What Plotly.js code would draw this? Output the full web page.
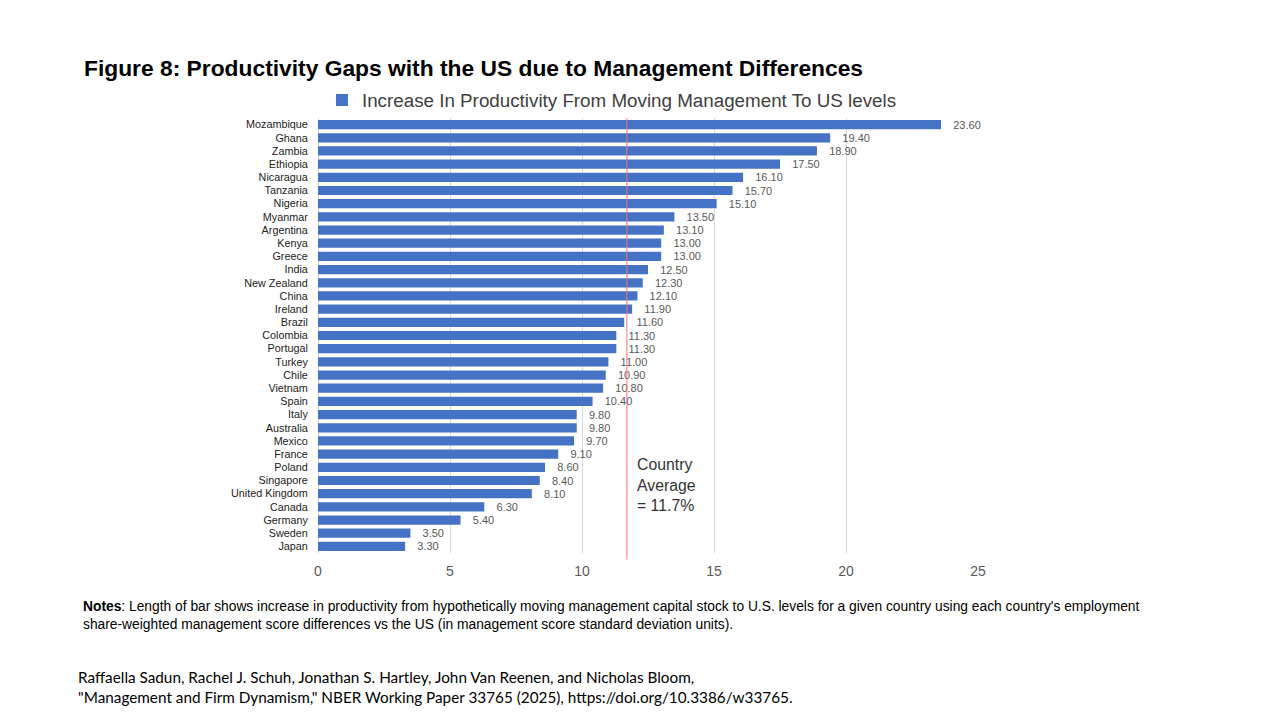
<!DOCTYPE html>
<html>
<head>
<meta charset="utf-8">
<script src="https://cdn.plot.ly/plotly-3.0.1.min.js"></script>
<style>
html,body{margin:0;padding:0;background:#fff;}
#chart{width:1280px;height:720px;}
</style>
</head>
<body>
<div id="chart"></div>
<script>
const countries = ["Mozambique","Ghana","Zambia","Ethiopia","Nicaragua","Tanzania","Nigeria","Myanmar","Argentina","Kenya","Greece","India","New Zealand","China","Ireland","Brazil","Colombia","Portugal","Turkey","Chile","Vietnam","Spain","Italy","Australia","Mexico","France","Poland","Singapore","United Kingdom","Canada","Germany","Sweden","Japan"];
const increase = [23.60,19.40,18.90,17.50,16.10,15.70,15.10,13.50,13.10,13.00,13.00,12.50,12.30,12.10,11.90,11.60,11.30,11.30,11.00,10.90,10.80,10.40,9.80,9.80,9.70,9.10,8.60,8.40,8.10,6.30,5.40,3.50,3.30];
const xTicks = [0,5,10,15,20,25];
const countryAverage = 11.7;
const seriesName = "Increase In Productivity From Moving Management To US levels";

const trace = {
  type: 'bar',
  orientation: 'h',
  y: countries,
  x: increase,
  name: seriesName,
  marker: {color: '#4472C4', line: {width: 0}},
  text: increase.map(v => v.toFixed(2)),
  texttemplate: '   %{text}',
  textposition: 'outside',
  constraintext: 'none',
  cliponaxis: false,
  textfont: {family: 'Liberation Sans, Arial, sans-serif', size: 11, color: '#595959'},
  showlegend: true,
  hoverinfo: 'x+y'
};

const layout = {
  width: 1280, height: 720,
  paper_bgcolor: '#fff', plot_bgcolor: '#fff',
  margin: {l: 318, r: 302, t: 118, b: 167},
  bargap: 0.3,
  font: {family: 'Liberation Sans, Arial, sans-serif'},
  showlegend: true,
  legend: {
    orientation: 'h', x: 0.006, xanchor: 'left', y: 0.997, yanchor: 'bottom',
    font: {size: 18.8, color: '#404040'}, itemwidth: 30,
    bgcolor: 'rgba(0,0,0,0)'
  },
  xaxis: {
    range: [0, 25], tickvals: xTicks, ticktext: xTicks.map(String),
    showgrid: true, gridcolor: '#d9d9d9', gridwidth: 1,
    zeroline: true, zerolinecolor: '#d9d9d9', zerolinewidth: 1,
    showline: false, ticks: '', ticklen: 8, ticklabelstandoff: 8,
    tickfont: {size: 14, color: '#595959'}
  },
  yaxis: {
    type: 'category', autorange: 'reversed',
    showgrid: false, zeroline: false, showline: false,
    ticks: 'outside', ticklen: 7, tickcolor: 'rgba(0,0,0,0)',
    tickfont: {size: 10.8, color: '#222'}
  },
  shapes: [{
    type: 'line', xref: 'x', yref: 'paper',
    x0: countryAverage, x1: countryAverage, y0: -0.015, y1: 1.0,
    line: {color: '#ff6f6f', width: 1}
  }],
  annotations: [
    {
      xref: 'paper', yref: 'paper', x: -0.358, y: 1.08, xanchor: 'left', yanchor: 'bottom',
      text: '<b>Figure 8: Productivity Gaps with the US due to Management Differences</b>',
      showarrow: false, font: {size: 22.8, color: '#000', family: 'Liberation Sans, Arial, sans-serif'}
    },
    {
      xref: 'x', yref: 'paper', x: countryAverage, y: 0.228, xanchor: 'left', yanchor: 'top', xshift: 8,
      text: 'Country<br>Average<br>= ' + countryAverage + '%', align: 'left',
      showarrow: false, font: {size: 15.8, color: '#333'}
    },
    {
      xref: 'paper', yref: 'paper', x: -0.359, y: -0.1, xanchor: 'left', yanchor: 'top',
      text: '<b>Notes</b>: Length of bar shows increase in productivity from hypothetically moving management capital stock to U.S. levels for a given country using each country\'s employment<br>share-weighted management score differences vs the US (in management score standard deviation units).',
      align: 'left', showarrow: false,
      font: {size: 13.8, color: '#000', family: 'Liberation Sans, Arial, sans-serif'}
    },
    {
      xref: 'paper', yref: 'paper', x: -0.367, y: -0.26, xanchor: 'left', yanchor: 'top',
      text: 'Raffaella Sadun, Rachel J. Schuh, Jonathan S. Hartley, John Van Reenen, and Nicholas Bloom,<br>"Management and Firm Dynamism," NBER Working Paper 33765 (2025), https://doi.org/10.3386/w33765.',
      align: 'left', showarrow: false,
      font: {size: 15.3, color: '#000', family: 'Lato, sans-serif'}
    }
  ]
};

Plotly.newPlot('chart', [trace], layout, {displayModeBar: false, staticPlot: true});
</script>
</body>
</html>
